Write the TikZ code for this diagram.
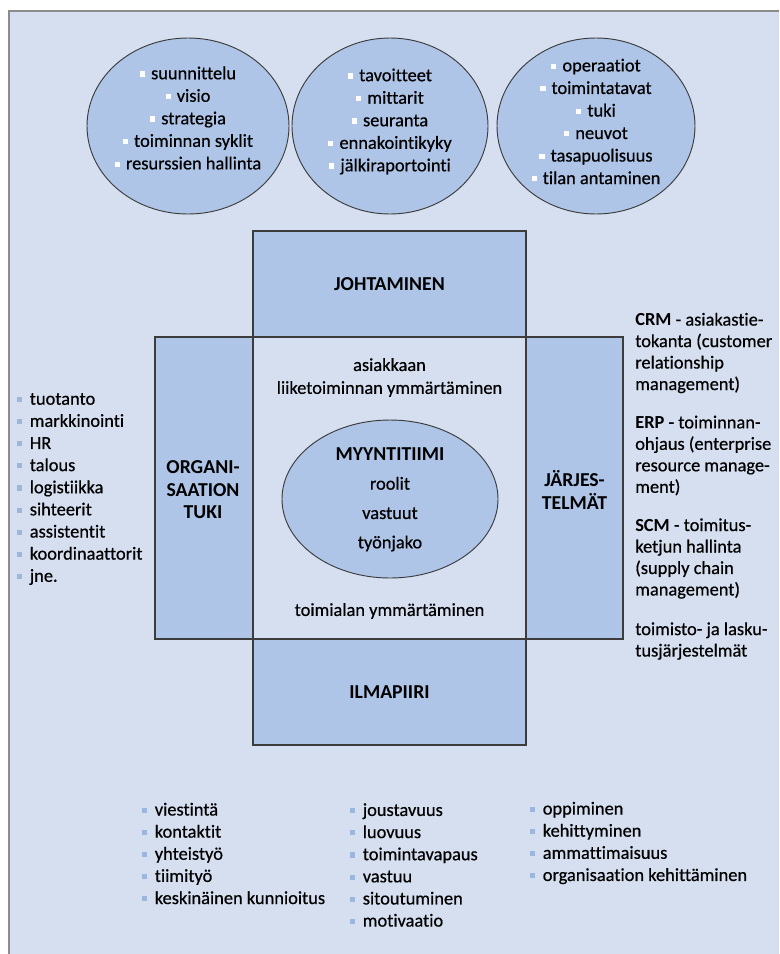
\documentclass[tikz,border=0pt]{standalone}
\usepackage{fontspec}
\setmainfont{Carlito}[Ligatures=CommonOff]
\newfontfamily\semifont{Carlito}[FakeBold=0.5,Ligatures=CommonOff]
\usetikzlibrary{shapes.geometric}

\definecolor{bgblue}{HTML}{D5DFF0}
\definecolor{boxblue}{HTML}{AEC5E7}
\definecolor{edgegray}{HTML}{3C3C3C}
\definecolor{framegray}{HTML}{8C8C8C}
\definecolor{bulletblue}{HTML}{9CB6DE}

% square bullets: white inside the ellipses, blue in the free lists
\newcommand{\wbul}{\textcolor{white}{\rule[0.3ex]{3.9pt}{3.9pt}}\hspace{4.5pt}}
\newcommand{\bbul}{\textcolor{bulletblue}{\rule[0.3ex]{3.9pt}{3.9pt}}\hspace{5.5pt}}

\begin{document}
\begin{tikzpicture}[x=0.75pt,y=-0.75pt,
  panel/.style={draw=edgegray, line width=0.9pt, fill=boxblue, inner sep=0pt},
  core/.style={draw=edgegray, line width=0.9pt, fill=bgblue, inner sep=0pt},
  oval/.style={ellipse, draw=edgegray, line width=0.7pt, fill=boxblue, inner sep=0pt},
  hdr/.style={font=\bfseries\fontsize{14.8}{16.9}\selectfont, align=center, inner sep=0pt},
  ovaltext/.style={font=\semifont\fontsize{13.8}{16.9}\selectfont, align=center, inner sep=0pt},
  plain/.style={font=\semifont\fontsize{13.8}{17.2}\selectfont, align=center, inner sep=0pt},
  list/.style={font=\semifont\fontsize{13.8}{16.6}\selectfont, align=left, anchor=west, inner sep=0pt},
  side/.style={font=\semifont\fontsize{13.8}{16.1}\selectfont, align=left, anchor=west, inner sep=0pt}]

\useasboundingbox (0,0) rectangle (779,954);

% page frame
\fill[bgblue] (9,11) rectangle (779,954);
\draw[framegray, line width=1.1pt] (9,954) -- (9,11) -- (779,11);

% top ellipses
\node[oval, minimum width=151.5pt, minimum height=132pt] (plan) at (188,126) {};
\node[oval, minimum width=147pt, minimum height=132pt] (goals) at (390,126) {};
\node[oval, minimum width=148.5pt, minimum height=132pt] (ops) at (596,126) {};

\node[ovaltext] (plantext) at (188,118) {\wbul suunnittelu\\ \wbul visio\\ \wbul strategia\\ \wbul toiminnan syklit\\ \wbul resurssien hallinta};
\node[ovaltext] (goalstext) at (390,121.5) {\wbul tavoitteet\\ \wbul mittarit\\ \wbul seuranta\\ \wbul ennakointikyky\\ \wbul jälkiraportointi};
\node[ovaltext] (opstext) at (596,121.5) {\wbul operaatiot\\ \wbul toimintatavat\\ \wbul tuki\\ \wbul neuvot\\ \wbul tasapuolisuus\\ \wbul tilan antaminen};

% central frame of four panels
\node[core, minimum width=204.75pt, minimum height=226.5pt] (core) at (389.5,488) {};
\node[panel, minimum width=204.75pt, minimum height=79.5pt] (lead) at (389.5,284) {};
\node[panel, minimum width=204.75pt, minimum height=79.5pt] (climate) at (389.5,692) {};
\node[panel, minimum width=73.5pt, minimum height=226.5pt] (orgsup) at (204,488) {};
\node[panel, minimum width=72.75pt, minimum height=226.5pt] (systems) at (574.5,488) {};

\node[hdr] (leadtext) at (lead) {JOHTAMINEN};
\node[hdr] (climatetext) at (climate) {ILMAPIIRI};
\node[hdr] (orgsuptext) at (203,490) {ORGANI-\\SAATION\\TUKI};
\node[hdr] (systemstext) at (574.5,490) {JÄRJES-\\TELMÄT};

% sales team in the middle
\node[oval, minimum width=162pt, minimum height=118.5pt] (team) at (390,499) {};
\node[hdr, font=\semifont\fontsize{13.8}{22}\selectfont] (teamtext) at (390,499.5) {{\normalfont\bfseries\fontsize{14.8}{22}\selectfont MYYNTITIIMI}\\roolit\\vastuut\\työnjako};

\node[plain] (customer) at (389.5,377.5) {asiakkaan\\liiketoiminnan ymmärtäminen};
\node[plain] (industry) at (389.5,611) {toimialan ymmärtäminen};

% left list
\node[list] (orglist) at (17,489) {\bbul tuotanto\\ \bbul markkinointi\\ \bbul HR\\ \bbul talous\\ \bbul logistiikka\\ \bbul sihteerit\\ \bbul assistentit\\ \bbul koordinaattorit\\ \bbul jne.};

% right notes on systems
\node[side] (crm) at (635,353) {{\normalfont\bfseries CRM} - asiakastie-\\tokanta (customer\\relationship\\management)};
\node[side] (erp) at (635,455.5) {{\normalfont\bfseries ERP} - toiminnan-\\ohjaus (enterprise\\resource manage-\\ment)};
\node[side] (scm) at (635,558.5) {{\normalfont\bfseries SCM} - toimitus-\\ketjun hallinta\\(supply chain\\management)};
\node[side] (office) at (635,641) {toimisto- ja lasku-\\tusjärjestelmät};

% bottom lists
\node[list] (commlist) at (142,853.5) {\bbul viestintä\\ \bbul kontaktit\\ \bbul yhteistyö\\ \bbul tiimityö\\ \bbul keskinäinen kunnioitus};
\node[list] (freelist) at (350,865) {\bbul joustavuus\\ \bbul luovuus\\ \bbul toimintavapaus\\ \bbul vastuu\\ \bbul sitoutuminen\\ \bbul motivaatio};
\node[list] (learnlist) at (530,843) {\bbul oppiminen\\ \bbul kehittyminen\\ \bbul ammattimaisuus\\ \bbul organisaation kehittäminen};

\end{tikzpicture}
\end{document}
